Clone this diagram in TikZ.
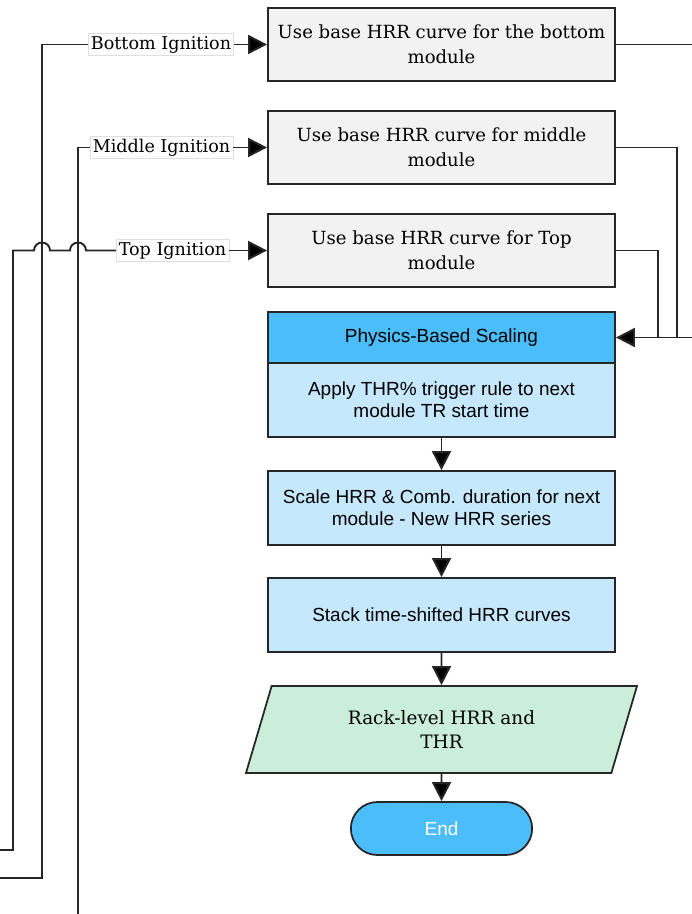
\documentclass[tikz,border=0pt]{standalone}
\usepackage{fontspec}
\setmainfont{DejaVu Serif}
\setsansfont{Liberation Sans}
\usetikzlibrary{shapes,arrows.meta,positioning,calc}

\definecolor{boxgray}{HTML}{F2F2F2}
\definecolor{linegray}{HTML}{262626}
\definecolor{hdrblue}{HTML}{4CBDFB}
\definecolor{paleblue}{HTML}{C5E8FC}
\definecolor{palegreen}{HTML}{CAEEDA}

\tikzset{
  modbox/.style={draw=linegray, line width=1pt, fill=boxgray, rectangle, minimum width=6.94cm, minimum height=1.46cm, align=center, font=\fontsize{10.3}{14}\selectfont},
  stepbox/.style={draw=linegray, line width=1pt, fill=paleblue, rectangle, minimum width=6.94cm, minimum height=1.48cm, align=center, font=\sffamily\fontsize{10.8}{12.5}\selectfont},
  ignlabel/.style={draw=gray!25, line width=0.4pt, fill=white, inner sep=1.5pt, font=\fontsize{10}{12}\selectfont},
  arr/.style={-{Triangle[length=0.38cm,width=0.38cm,fill=black]}},
  conn/.style={draw=linegray, line width=1.1pt}
}

\begin{document}
\begin{tikzpicture}[conn]
\useasboundingbox (0,0) rectangle (13.84,-18.28);

% module boxes
\node[modbox] (bot) at (8.83,-0.89) {Use base HRR curve for the bottom\\module};
\node[modbox] (mid) at (8.83,-2.95) {Use base HRR curve for middle\\module};
\node[modbox] (top) at (8.83,-5.01) {Use base HRR curve for Top\\module};

% scaling block
\node[stepbox] (apply) at (8.83,-8.0) {Apply THR\% trigger rule to next\\module TR start time};
\node[stepbox, fill=hdrblue, minimum height=1.02cm] (hdr) at (8.83,-6.75) {Physics-Based Scaling};
\node[stepbox] (scale) at (8.83,-10.16) {Scale HRR \& Comb. duration for next\\module - New HRR series};
\node[stepbox] (stack) at (8.83,-12.3) {Stack time-shifted HRR curves};
\node[draw=linegray, line width=1pt, fill=palegreen, trapezium, trapezium left angle=63, trapezium right angle=117,
      trapezium stretches body=true, minimum width=7.82cm, minimum height=1.74cm, align=center,
      font=\fontsize{10.5}{14}\selectfont] (rack) at (8.83,-14.59) {Rack-level HRR and\\THR};
\node[draw=linegray, line width=1pt, fill=hdrblue, rounded rectangle, minimum width=3.86cm, minimum height=1.06cm,
      text=white, font=\sffamily\fontsize{10.8}{12.5}\selectfont] (end) at (8.83,-16.57) {End};

% ignition labels
\node[ignlabel] (bl) at (3.22,-0.89) {Bottom Ignition};
\node[ignlabel] (ml) at (3.23,-2.95) {Middle Ignition};
\node[ignlabel] (tl) at (3.45,-5.01) {Top Ignition};

\coordinate (bfree) at (0,-17.56);
\coordinate (mfree) at (1.56,-18.5);
\coordinate (tfree) at (0,-17.0);
\coordinate (rjoin) at (13.9,-6.75);

\draw[arr] (bl) -- (bot);
\draw[arr] (ml) -- (mid);
\draw[arr] (tl) -- (top);
\draw (bl.west) -| (0.84,-17.56) -- (bfree);
\draw (ml.west) -| (mfree);
\draw (tfree) -- (0.26,-17.0) |- (0.68,-5.01) arc[start angle=180, end angle=0, radius=0.16]
      -- (1.40,-5.01) arc[start angle=180, end angle=0, radius=0.16] -- (tl.west);

% feedback into scaling
\draw[arr] (bot.east) -| (rjoin) -- (hdr.east);
\draw (mid.east) -| (rjoin -| 13.54,0);
\draw (top.east) -| (rjoin -| 13.16,0);

\draw[arr] (apply) -- (scale);
\draw[arr] (scale) -- (stack);
\draw[arr] (stack) -- (rack);
\draw[arr] (rack) -- (end);
\end{tikzpicture}
\end{document}
